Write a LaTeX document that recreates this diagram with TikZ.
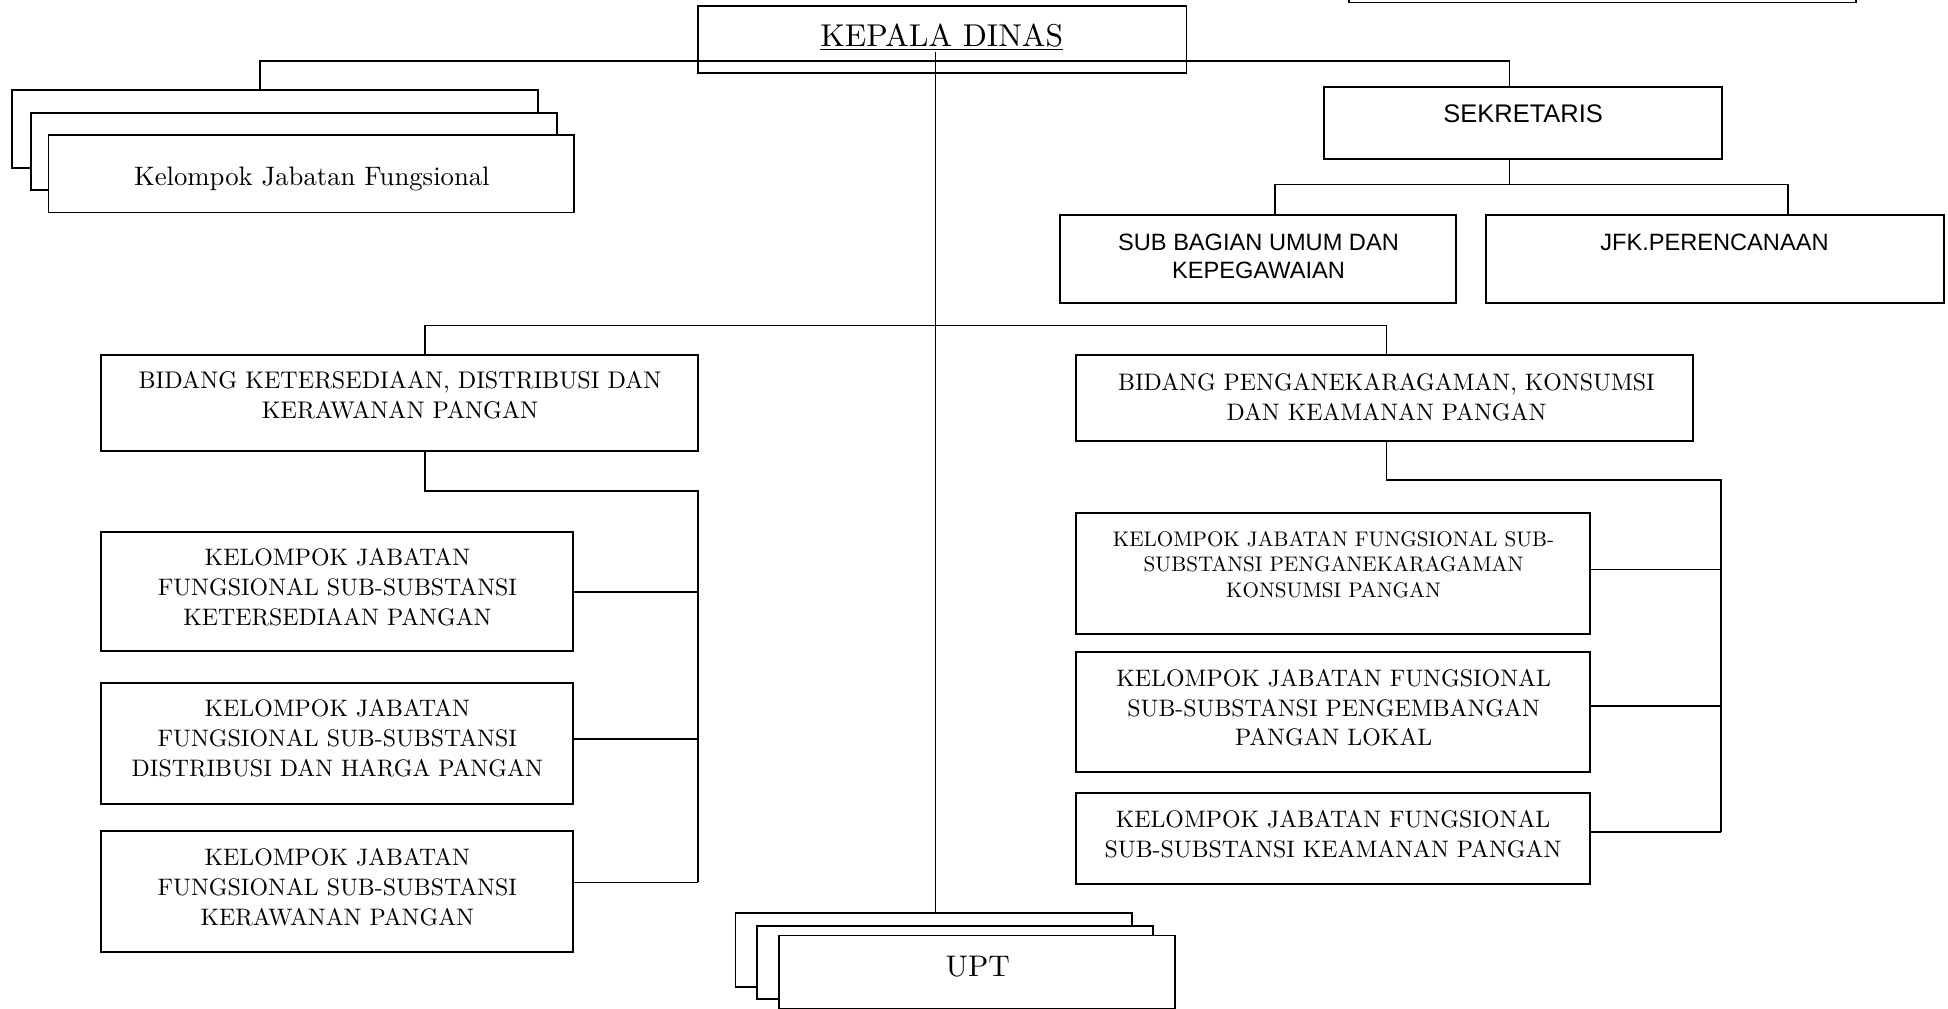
\documentclass[tikz,border=0pt]{standalone}
\usepackage{fontspec}
\setmainfont{lmroman10-regular.otf}
\newfontfamily\sansf{Liberation Sans}
\begin{document}
\begin{tikzpicture}[x=1pt,y=-1pt,
  box/.style={draw, line width=1.5pt, inner sep=0pt, outer sep=0pt, anchor=north west, rectangle},
  sbox/.style={box, fill=white},
  txt/.style={inner sep=0pt, outer sep=0pt, align=center, text=black},
  conn/.style={line width=1.4pt},
  serA/.style={font=\fontsize{19.2}{24}\selectfont},
  serB/.style={font=\fontsize{17}{20.5}\selectfont},
  sanA/.style={font=\sansf\fontsize{19}{22.5}\selectfont}
]
\path[use as bounding box, fill=white] (0,0) rectangle (1568,812);
\clip (0,0) rectangle (1568,812);

% boxes
\node[box, minimum width=408pt, minimum height=30pt] (tr) at (1086,-28) {};
\node[box, minimum width=393pt, minimum height=54pt] (kd) at (562,5) {};
\node[sbox, minimum width=423pt, minimum height=63pt] (kjfa) at (10,72.5) {};
\node[sbox, minimum width=423pt, minimum height=62pt] (kjfb) at (25,91) {};
\node[sbox, minimum width=423pt, minimum height=62.3pt] (kjfc) at (39,108.7) {};
\node[box, minimum width=320pt, minimum height=57.4pt] (sek) at (1066,70.3) {};
\node[box, minimum width=319pt, minimum height=70.6pt] (sub) at (853,173) {};
\node[box, minimum width=369pt, minimum height=70.6pt] (jfk) at (1196,173) {};
\node[box, minimum width=481pt, minimum height=77.5pt] (bl) at (81,285.5) {};
\node[box, minimum width=496.5pt, minimum height=69pt] (br) at (866,285.8) {};
\node[box, minimum width=380.5pt, minimum height=96pt] (lc1) at (81,428) {};
\node[box, minimum width=380.5pt, minimum height=97pt] (lc2) at (81,550) {};
\node[box, minimum width=380.5pt, minimum height=97pt] (lc3) at (81,669) {};
\node[box, minimum width=414pt, minimum height=97pt] (rc1) at (866,413) {};
\node[box, minimum width=414pt, minimum height=96.6pt] (rc2) at (866,524.6) {};
\node[box, minimum width=414pt, minimum height=73pt] (rc3) at (866,638.6) {};
\node[sbox, minimum width=319.5pt, minimum height=59.5pt] (upta) at (592,734.7) {};
\node[sbox, minimum width=319pt, minimum height=58.8pt] (uptb) at (609,745.4) {};
\node[sbox, minimum width=319pt, minimum height=58.7pt] (uptc) at (627,753) {};

% texts
\node[txt, anchor=base, font=\fontsize{25.4}{28}\selectfont] (kd-t) at (758,37.6) {\underline{KEPALA DINAS}};
\node[txt, anchor=base, font=\fontsize{21.5}{26}\selectfont] (kjf-t) at (251,149) {Kelompok Jabatan Fungsional};
\node[txt, anchor=north, font=\sansf\fontsize{20.5}{24}\selectfont] (sek-t) at (1226,84.5) {SEKRETARIS};
\node[txt, anchor=north, sanA] (sub-t) at (1013,188) {SUB BAGIAN UMUM DAN\\KEPEGAWAIAN};
\node[txt, anchor=north, sanA] (jfk-t) at (1380,188) {JFK.PERENCANAAN};
\node[txt, anchor=north, font=\fontsize{19.4}{24.5}\selectfont] (bl-t) at (322,298.5) {BIDANG KETERSEDIAAN, DISTRIBUSI DAN\\KERAWANAN PANGAN};
\node[txt, anchor=north, serA] (br-t) at (1116,300.5) {BIDANG PENGANEKARAGAMAN, KONSUMSI\\DAN KEAMANAN PANGAN};
\node[txt, anchor=north, serA] (lc1-t) at (271.6,441.8) {KELOMPOK JABATAN\\FUNGSIONAL SUB-SUBSTANSI\\KETERSEDIAAN PANGAN};
\node[txt, anchor=north, serA] (lc2-t) at (271.5,563.2) {KELOMPOK JABATAN\\FUNGSIONAL SUB-SUBSTANSI\\DISTRIBUSI DAN HARGA PANGAN};
\node[txt, anchor=north, serA] (lc3-t) at (271.5,682.9) {KELOMPOK JABATAN\\FUNGSIONAL SUB-SUBSTANSI\\KERAWANAN PANGAN};
\node[txt, anchor=north, serB] (rc1-t) at (1073.4,427.5) {KELOMPOK JABATAN FUNGSIONAL SUB-\\SUBSTANSI PENGANEKARAGAMAN\\KONSUMSI PANGAN};
\node[txt, anchor=north, serA] (rc2-t) at (1073.5,538.7) {KELOMPOK JABATAN FUNGSIONAL\\SUB-SUBSTANSI PENGEMBANGAN\\PANGAN LOKAL};
\node[txt, anchor=north, serA] (rc3-t) at (1073,652.2) {KELOMPOK JABATAN FUNGSIONAL\\SUB-SUBSTANSI KEAMANAN PANGAN};
\node[txt, anchor=base, font=\fontsize{24}{28}\selectfont] (upt-t) at (787,786.2) {UPT};

% connectors
\coordinate (hub) at (753,42);
\draw[conn] (hub) -- (hub |- upta.north);
\coordinate (t1) at (209,49);
\coordinate (t2) at (1215,49);
\draw[conn] (t1 |- kjfa.north) -- (t1) -- (t2) -- (t2 |- sek.north);
\coordinate (s1) at (1026,148.5);
\coordinate (s2) at (1439,148.5);
\draw[conn] (t2 |- sek.south) -- (t2 |- s1);
\draw[conn] (s1 |- sub.north) -- (s1) -- (s2) -- (s2 |- jfk.north);
\coordinate (m1) at (342,262);
\coordinate (m2) at (1116,262);
\draw[conn] (m1 |- bl.north) -- (m1) -- (m2) -- (m2 |- br.north);
\coordinate (l1) at (342,395);
\coordinate (l2) at (562,395);
\coordinate (la) at (562,476.6);
\coordinate (lb) at (562,594.8);
\coordinate (lc) at (562,710.3);
\draw[conn] (l1 |- bl.south) -- (l1) -- (l2) -- (lc);
\draw[conn] (la -| lc1.east) -- (la);
\draw[conn] (lb -| lc2.east) -- (lb);
\draw[conn] (lc -| lc3.east) -- (lc);
\coordinate (r1) at (1116,386.4);
\coordinate (r2) at (1385,386.4);
\coordinate (ra) at (1385,458.3);
\coordinate (rb) at (1385,568.3);
\coordinate (rc) at (1385,669.5);
\draw[conn] (r1 |- br.south) -- (r1) -- (r2) -- (rc);
\draw[conn] (ra -| rc1.east) -- (ra);
\draw[conn] (rb -| rc2.east) -- (rb);
\draw[conn] (rc -| rc3.east) -- (rc);
\end{tikzpicture}
\end{document}
